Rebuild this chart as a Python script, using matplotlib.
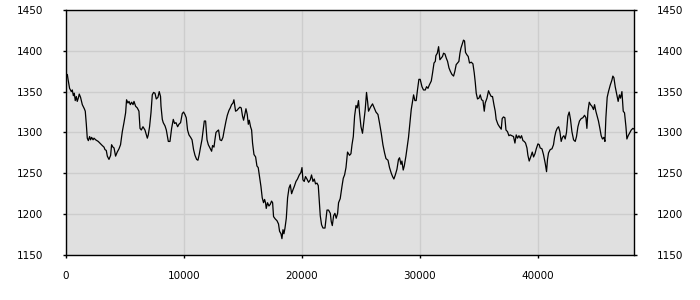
"""
Line chart of a long noisy series, gray plotting area, y labels on both sides.
"""

import matplotlib
matplotlib.use('Agg')
import matplotlib.pyplot as plt

# Series (x position, value)
x_vals = [
    0, 130, 190, 320, 470, 550, 640, 720, 800, 890, 970, 1060, 1140, 1250, 1400, 1570, 1650,
    1740, 1820, 1910, 2020, 2100, 2190, 2310, 2390, 2530, 2750, 2950, 3090, 3240, 3320, 3430,
    3520, 3660, 3800, 3880, 4000, 4090, 4220, 4360, 4510, 4640, 4790, 4930, 5070, 5150, 5270,
    5360, 5470, 5580, 5700, 5780, 5920, 6060, 6200, 6290, 6400, 6540, 6710, 6910, 6990, 7100,
    7220, 7330, 7440, 7560, 7670, 7810, 7920, 8030, 8070, 8180, 8260, 8410, 8520, 8690, 8830,
    8970, 9110, 9220, 9340, 9480, 9590, 9730, 9870, 9980, 10100, 10210, 10320, 10440, 10580,
    10700, 10830, 10950, 11090, 11200, 11310, 11420, 11540, 11630, 11740, 11850, 11970, 12080,
    12220, 12360, 12440, 12560, 12640, 12730, 12860, 12950, 13070, 13200, 13320, 13430, 13580,
    13690, 13830, 13940, 14050, 14170, 14250, 14390, 14510, 14620, 14760, 14870, 14980, 15070,
    15190, 15270, 15380, 15470, 15550, 15660, 15750, 15830, 15950, 16090, 16200, 16310, 16420,
    16540, 16650, 16760, 16850, 16930, 16990, 17100, 17220, 17330, 17440, 17530, 17610, 17760,
    17900, 18030, 18120, 18240, 18320, 18410, 18490, 18580, 18690, 18800, 18920, 19030, 19140,
    19260, 19370, 19510, 19640, 19790, 19930, 20020, 20100, 20210, 20320, 20440, 20580, 20720,
    20830, 20950, 21060, 21170, 21290, 21400, 21480, 21570, 21680, 21800, 21970, 22050, 22140,
    22270, 22420, 22500, 22590, 22700, 22810, 22920, 23040, 23120, 23260, 23410, 23520, 23630,
    23750, 23880, 24050, 24170, 24260, 24370, 24480, 24600, 24700, 24810, 24900, 25020, 25150,
    25270, 25380, 25490, 25580, 25660, 25830, 26000, 26150, 26290, 26460, 26600, 26740, 26880,
    27020, 27140, 27310, 27440, 27590, 27700, 27810, 27930, 28070, 28200, 28290, 28410, 28490,
    28600, 28690, 28830, 28940, 29050, 29170, 29280, 29390, 29480, 29590, 29700, 29810, 29930,
    30040, 30190, 30320, 30470, 30580, 30700, 30810, 30980, 31090, 31210, 31320, 31370, 31490,
    31600, 31710, 31820, 31930, 32020, 32140, 32250, 32360, 32480, 32590, 32730, 32870, 32980,
    33090, 33210, 33320, 33410, 33490, 33600, 33710, 33800, 33880, 34000, 34110, 34220, 34370,
    34510, 34620, 34710, 34790, 34900, 35020, 35130, 35240, 35360, 35470, 35550, 35700, 35830,
    35950, 36060, 36170, 36290, 36400, 36480, 36630, 36760, 36910, 36990, 37100, 37220, 37310,
    37440, 37560, 37670, 37820, 37950, 38070, 38180, 38290, 38410, 38520, 38630, 38750, 38860,
    38970, 39090, 39170, 39280, 39430, 39540, 39650, 39770, 39880, 40020, 40130, 40210, 40360,
    40490, 40640, 40750, 40830, 40920, 41060, 41210, 41340, 41430, 41540, 41650, 41770, 41880,
    41990, 42100, 42220, 42330, 42440, 42560, 42670, 42780, 42900, 43040, 43180, 43290, 43410,
    43540, 43690, 43830, 43970, 44090, 44170, 44260, 44370, 44480, 44600, 44730, 44820, 44930,
    45040, 45150, 45270, 45380, 45490, 45610, 45700, 45780, 45890, 46000, 46150, 46290, 46370,
    46460, 46570, 46710, 46820, 46930, 47020, 47140, 47250, 47360, 47480, 47560, 47670, 47780,
    47930, 48070, 48180,
]
y_vals = [
    1368, 1371, 1365, 1354, 1350, 1352, 1345, 1348, 1339, 1344, 1338, 1342, 1347, 1343, 1334, 1329, 1326,
    1310, 1293, 1290, 1295, 1291, 1294, 1291, 1293, 1291, 1289, 1286, 1284, 1282, 1279, 1278,
    1271, 1267, 1272, 1285, 1282, 1281, 1271, 1276, 1280, 1285, 1301, 1312, 1324, 1340, 1336,
    1338, 1334, 1337, 1334, 1338, 1332, 1330, 1326, 1305, 1303, 1307, 1303, 1293, 1297, 1307,
    1324, 1346, 1349, 1348, 1341, 1343, 1350, 1344, 1332, 1316, 1312, 1308, 1303, 1289, 1289,
    1305, 1316, 1311, 1312, 1307, 1310, 1312, 1323, 1325, 1322, 1318, 1303, 1297, 1294,
    1291, 1279, 1272, 1267, 1266, 1273, 1282, 1291, 1301, 1314, 1314, 1291, 1285,
    1281, 1277, 1284, 1282, 1291, 1300, 1302, 1303, 1291, 1290, 1294, 1303, 1314,
    1321, 1327, 1330, 1334, 1336, 1340, 1326, 1327, 1329, 1331, 1330, 1320, 1315,
    1323, 1329, 1322, 1310, 1315, 1307, 1303, 1287, 1273, 1270, 1259, 1257, 1246,
    1234, 1220, 1214, 1218, 1214, 1207, 1214, 1210, 1212, 1216, 1214, 1197, 1194,
    1192, 1188, 1179, 1176, 1170, 1181, 1176, 1183, 1195, 1220, 1232, 1236, 1225,
    1230, 1234, 1240, 1243, 1248, 1251, 1257, 1242, 1240, 1246, 1243, 1239, 1242,
    1248, 1240, 1243, 1237, 1238, 1235, 1218, 1198, 1187, 1183, 1183, 1193, 1205,
    1205, 1201, 1191, 1186, 1198, 1201, 1195, 1201, 1214, 1219, 1234, 1244, 1248,
    1257, 1276, 1272, 1274, 1285, 1295, 1320, 1333, 1330, 1339, 1324, 1307, 1299,
    1314, 1328, 1349, 1338, 1326, 1331, 1335, 1330, 1325, 1322, 1311, 1299, 1285,
    1275, 1268, 1266, 1257, 1250, 1246, 1243, 1248, 1255, 1267, 1269, 1261, 1265,
    1254, 1259, 1271, 1283, 1294, 1312, 1328, 1338, 1346, 1339, 1339, 1352, 1365,
    1365, 1356, 1352, 1352, 1356, 1354, 1358, 1363, 1373, 1385, 1387, 1394, 1397,
    1405, 1389, 1391, 1393, 1397, 1396, 1391, 1387, 1379, 1375, 1371, 1369, 1375,
    1383, 1385, 1387, 1397, 1403, 1408, 1413, 1412, 1398, 1395, 1393, 1385, 1386,
    1384, 1373, 1361, 1348, 1341, 1342, 1346, 1340, 1339, 1326, 1336, 1342, 1351,
    1347, 1344, 1344, 1334, 1326, 1316, 1310, 1307, 1304, 1317, 1319, 1318, 1303,
    1301, 1296, 1297, 1296, 1295, 1287, 1297, 1293, 1296, 1293, 1296, 1290, 1289,
    1287, 1281, 1272, 1265, 1271, 1276, 1270, 1274, 1280, 1286, 1285, 1281, 1280,
    1273, 1262, 1252, 1267, 1275, 1279, 1280, 1285, 1294, 1301, 1305, 1307, 1301,
    1289, 1294, 1296, 1292, 1300, 1320, 1325, 1316, 1301, 1291, 1289, 1295, 1307,
    1314, 1317, 1318, 1321, 1318, 1305, 1326, 1337, 1334, 1332, 1328, 1334, 1326,
    1320, 1314, 1305, 1296, 1292, 1294, 1289, 1318, 1343, 1350, 1358, 1364, 1369,
    1367, 1356, 1346, 1338, 1346, 1342, 1350, 1326, 1324, 1307, 1292, 1296, 1299,
    1303, 1305, 1304,
]

x_ticks = [0, 10000, 20000, 30000, 40000]
y_ticks = [1150, 1200, 1250, 1300, 1350, 1400, 1450]

fig = plt.figure(figsize=(7, 3), dpi=100)
ax = fig.add_axes([0.094, 0.15, 0.812, 0.817])

ax.set_facecolor('#e0e0e0')
ax.plot(x_vals, y_vals, color='black', linewidth=0.9)

ax.set_xlim(0, x_vals[-1])
ax.set_ylim(1150, 1450)
ax.set_xticks(x_ticks)
ax.set_yticks(y_ticks)

ax.grid(True, color='#cdcdcd', linewidth=1)
ax.set_axisbelow(True)

for side in ['left', 'right', 'top', 'bottom']:
    ax.spines[side].set_color('black')
    ax.spines[side].set_linewidth(1)

ax.tick_params(axis='y', which='both', left=True, right=True, labelleft=True,
               labelright=True, direction='out', length=2.5, width=1, pad=14,
               labelsize=7.5, colors='black')
ax.tick_params(axis='x', direction='out', length=2.5, width=1, pad=9,
               labelsize=7.5, colors='black')

fig.savefig('out.png', dpi=100)
plt.close()
